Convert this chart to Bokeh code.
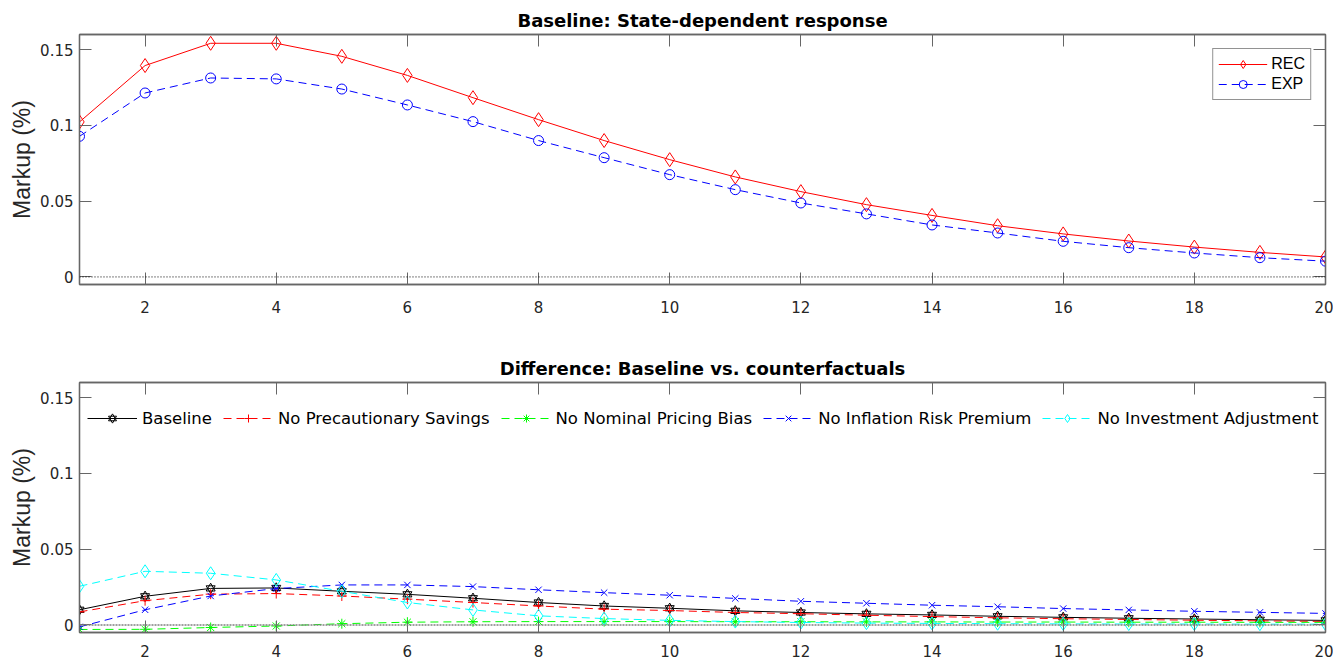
from bokeh.plotting import figure
from bokeh.layouts import column
from bokeh.models import (ColumnDataSource, Range1d, LinearAxis, FixedTicker,
                          Span, Legend, LegendItem)
from bokeh.embed import file_html
from bokeh.resources import INLINE

# Horizon (quarters) and tick settings
horizon = list(range(1, 21))
x_ticks = [2, 4, 6, 8, 10, 12, 14, 16, 18, 20]
y_ticks = [0, 0.05, 0.1, 0.15]
y_tick_labels = ["0", "0.05", "0.1", "0.15"]

# Baseline: state-dependent markup response (%)
rec = [0.1023, 0.1395, 0.1542, 0.1542, 0.1456, 0.1330, 0.1183, 0.1038, 0.0900, 0.0774,
       0.0660, 0.0563, 0.0477, 0.0406, 0.0338, 0.0284, 0.0237, 0.0197, 0.0162, 0.0132]
exp = [0.0928, 0.1214, 0.1313, 0.1307, 0.1240, 0.1135, 0.1025, 0.0900, 0.0787, 0.0675,
       0.0576, 0.0488, 0.0416, 0.0343, 0.0290, 0.0235, 0.0193, 0.0158, 0.0127, 0.0104]

# Difference REC - EXP: baseline vs. counterfactuals (%)
baseline = [0.0100, 0.0189, 0.0241, 0.0244, 0.0222, 0.0202, 0.0176, 0.0148, 0.0125, 0.0110,
            0.0093, 0.0082, 0.0073, 0.0066, 0.0057, 0.0050, 0.0044, 0.0039, 0.0034, 0.0030]
no_precaution = [0.0086, 0.0160, 0.0203, 0.0207, 0.0191, 0.0170, 0.0148, 0.0125, 0.0104, 0.0095,
                 0.0082, 0.0074, 0.0064, 0.0055, 0.0047, 0.0041, 0.0036, 0.0031, 0.0027, 0.0023]
no_nominal_bias = [-0.0030, -0.0029, -0.0017, -0.0007, 0.0008, 0.0018, 0.0021, 0.0022, 0.0022, 0.0022,
                   0.0021, 0.0021, 0.0020, 0.0020, 0.0019, 0.0019, 0.0018, 0.0018, 0.0017, 0.0017]
no_risk_premium = [-0.0013, 0.0100, 0.0191, 0.0240, 0.0264, 0.0264, 0.0253, 0.0232, 0.0213, 0.0196,
                   0.0175, 0.0156, 0.0143, 0.0130, 0.0120, 0.0108, 0.0099, 0.0090, 0.0083, 0.0076]
no_investment_adj = [0.0255, 0.0354, 0.0341, 0.0297, 0.0222, 0.0148, 0.0099, 0.0060, 0.0042, 0.0030,
                     0.0022, 0.0016, 0.0012, 0.0010, 0.0008, 0.0007, 0.0006, 0.0006, 0.0005, 0.0005]

AXIS_COLOR = "#666666"
TEXT_COLOR = "#262626"
TICK_FONT = "DejaVu Sans"
LABEL_FONT = "Liberation Sans"


def make_panel(title, border_top, border_bottom, x_label_standoff, zero_color, zero_dash, zero_width):
    p = figure(width=1333, height=330, output_backend="svg", toolbar_location=None,
               x_range=Range1d(1, 20), y_range=Range1d(-0.005, 0.16),
               min_border_left=79, min_border_right=8,
               min_border_top=border_top, min_border_bottom=border_bottom,
               background_fill_color="white", border_fill_color="white")
    p.grid.visible = False
    p.outline_line_color = AXIS_COLOR
    p.outline_line_width = 1.3

    p.title.text = title
    p.title.align = "center"
    p.title.text_font = TICK_FONT
    p.title.text_font_style = "bold"
    p.title.text_font_size = "18px"
    p.title.text_color = "black"
    p.title.standoff = 7

    # labelled axes
    p.xaxis.ticker = FixedTicker(ticks=x_ticks)
    p.yaxis.ticker = FixedTicker(ticks=y_ticks)
    p.yaxis.major_label_overrides = {str(t): s for t, s in zip(y_ticks, y_tick_labels)}
    p.yaxis.axis_label = "Markup (%)"
    p.yaxis.axis_label_text_font = LABEL_FONT
    p.yaxis.axis_label_text_font_size = "23px"
    p.yaxis.axis_label_text_font_style = "normal"
    p.yaxis.axis_label_text_color = TEXT_COLOR
    p.yaxis.axis_label_standoff = 2
    p.yaxis.major_label_standoff = 6
    p.xaxis.major_label_standoff = x_label_standoff

    # mirrored axes on top and right: tick marks only, no labels
    top_axis = LinearAxis(ticker=FixedTicker(ticks=x_ticks))
    right_axis = LinearAxis(ticker=FixedTicker(ticks=y_ticks))
    p.add_layout(top_axis, "above")
    p.add_layout(right_axis, "right")

    for ax in p.axis:
        ax.axis_line_color = AXIS_COLOR
        ax.axis_line_width = 1.3
        ax.major_tick_line_color = AXIS_COLOR
        ax.major_tick_line_width = 1
        ax.major_tick_in = 12
        ax.major_tick_out = 0
        ax.minor_tick_line_color = None
        ax.major_label_text_font = TICK_FONT
        ax.major_label_text_color = TEXT_COLOR
        ax.major_label_text_font_size = "15px"
    for ax in (top_axis, right_axis):
        ax.major_label_text_color = None
        ax.major_label_standoff = 0

    p.add_layout(Span(location=0, dimension="width", line_color=zero_color,
                      line_dash=zero_dash, line_width=zero_width))
    return p


# ---- Top panel: state-dependent response ----
top = make_panel("Baseline: State-dependent response", 34, 46, 16, "black", "1 2", 1)
src_top = ColumnDataSource(dict(h=horizon, rec=rec, exp=exp))

rec_line = top.line("h", "rec", source=src_top, line_color="#ff0000", line_width=1)
rec_mark = top.scatter("h", "rec", source=src_top, marker="diamond", size=14,
                       fill_color=None, line_color="#ff0000", line_width=1)
exp_line = top.line("h", "exp", source=src_top, line_color="#0000ff", line_width=1,
                    line_dash="8 5")
exp_mark = top.scatter("h", "exp", source=src_top, marker="circle", size=10,
                       fill_color=None, line_color="#0000ff", line_width=1)

top_legend = Legend(items=[LegendItem(label="REC", renderers=[rec_line, rec_mark]),
                           LegendItem(label="EXP", renderers=[exp_line, exp_mark])],
                    location="top_right", margin=14, padding=5, spacing=0,
                    glyph_width=49, glyph_height=20, label_height=20, label_standoff=4,
                    border_line_color=TEXT_COLOR, border_line_width=1,
                    background_fill_color="white", background_fill_alpha=1,
                    label_text_font=LABEL_FONT, label_text_font_size="16px",
                    label_text_color="black")
top.add_layout(top_legend)

# ---- Bottom panel: differences vs. counterfactuals ----
bot = make_panel("Difference: Baseline vs. counterfactuals", 52, 28, 12, "#808080", "2 1", 1.5)
src_bot = ColumnDataSource(dict(h=horizon, base=baseline, nps=no_precaution,
                                nnb=no_nominal_bias, nirp=no_risk_premium,
                                nia=no_investment_adj))

items = []

# hexagram markers built from two overlapping triangles
b_line = bot.line("h", "base", source=src_bot, line_color="black", line_width=1)
b_up = bot.scatter("h", "base", source=src_bot, marker="triangle", size=9,
                   fill_color=None, line_color="black", line_width=1)
b_dn = bot.scatter("h", "base", source=src_bot, marker="inverted_triangle", size=9,
                   fill_color=None, line_color="black", line_width=1)
items.append(LegendItem(label="Baseline", renderers=[b_line, b_up, b_dn]))

series = [
    ("nps", "#ff0000", "cross", 10, "No Precautionary Savings"),
    ("nnb", "#00ff00", "asterisk", 10, "No Nominal Pricing Bias"),
    ("nirp", "#0000ff", "x", 9, "No Inflation Risk Premium"),
    ("nia", "#00ffff", "diamond", 13, "No Investment Adjustment"),
]
for col, color, marker, size, label in series:
    ln = bot.line("h", col, source=src_bot, line_color=color, line_width=1, line_dash="8 5")
    mk = bot.scatter("h", col, source=src_bot, marker=marker, size=size,
                     fill_color=None, line_color=color, line_width=1)
    items.append(LegendItem(label=label, renderers=[ln, mk]))

bot_legend = Legend(items=items, orientation="horizontal", location=(8, 204),
                    margin=0, padding=0, spacing=11,
                    glyph_width=50, glyph_height=20, label_height=20, label_standoff=5,
                    border_line_alpha=0, background_fill_alpha=0,
                    label_text_font=TICK_FONT, label_text_font_size="16.5px",
                    label_text_color="black")
bot.add_layout(bot_legend)

layout = column(top, bot, spacing=0)
open("out.html", "w").write(file_html(layout, INLINE))
